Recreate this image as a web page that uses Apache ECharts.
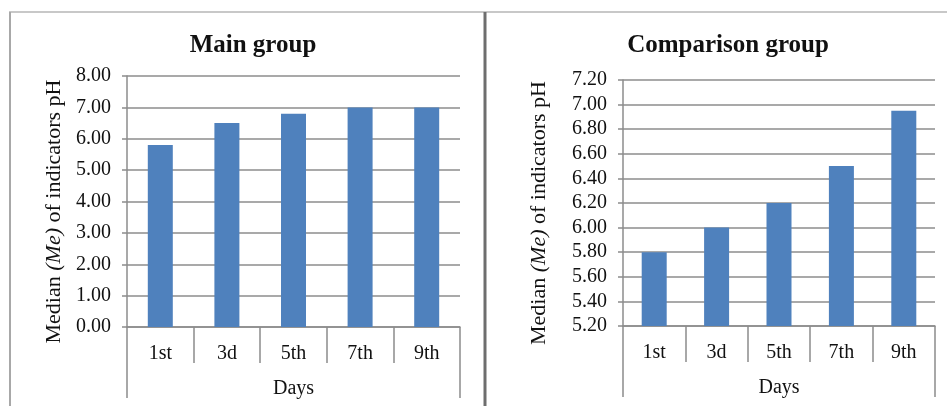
<!DOCTYPE html>
<html>
<head>
<meta charset="utf-8">
<script src="https://cdn.jsdelivr.net/npm/echarts@6/dist/echarts.min.js"></script>
<style>
  html, body { margin: 0; padding: 0; background: #ffffff; }
  #chart { width: 947px; height: 406px; }
</style>
</head>
<body>
<div id="chart"></div>
<script>
// Median pH by day, two patient groups
const days = ['1st', '3d', '5th', '7th', '9th'];
const mainGroup = [5.8, 6.5, 6.8, 7.0, 7.0];
const comparisonGroup = [5.8, 6.0, 6.2, 6.5, 6.95];
const mainTicks = { min: 0, max: 8, interval: 1 };
const comparisonTicks = { min: 5.2, max: 7.2, interval: 0.2 };

const serif = 'Liberation Serif, Times New Roman, serif';
const gridColor = '#8c8c8c';
const barColor = '#4f81bd';
const ink = '#111111';

function yAxisFor(idx, ticks, gap) {
  return {
    type: 'value', gridIndex: idx,
    min: ticks.min, max: ticks.max, interval: ticks.interval,
    axisLine: { show: true, lineStyle: { color: gridColor, width: 1.5 } },
    axisTick: { show: true, length: 5, lineStyle: { color: gridColor, width: 1.5 } },
    splitLine: { show: true, lineStyle: { color: gridColor, width: 1.5 } },
    axisLabel: { color: ink, fontFamily: serif, fontSize: 20, margin: 16,
                 formatter: v => v.toFixed(2) },
    name: 'Median {i|(Me)} of indicators pH',
    nameLocation: 'middle', nameGap: gap, nameRotate: 90,
    nameTextStyle: { color: ink, fontFamily: serif, fontSize: 22, padding: [0, 20, 0, 0],
      rich: { i: { fontStyle: 'italic', fontFamily: serif, fontSize: 22, color: ink } } }
  };
}

function dayAxis(idx) {
  return {
    type: 'category', gridIndex: idx, data: days, position: 'bottom',
    axisLine: { show: true, lineStyle: { color: gridColor, width: 1.5 } },
    axisTick: { show: true, interval: 0, length: 36, lineStyle: { color: gridColor, width: 1.5 } },
    axisLabel: { color: ink, fontFamily: serif, fontSize: 20, margin: 17, interval: 0 }
  };
}

function daysTitleAxis(idx) {
  return {
    type: 'category', gridIndex: idx, data: ['Days'], position: 'bottom',
    axisLine: { show: false },
    axisTick: { show: true, length: 71, lineStyle: { color: gridColor, width: 1.5 } },
    axisLabel: { color: ink, fontFamily: serif, fontSize: 20, margin: 52 },
    splitLine: { show: false }
  };
}

const chart = echarts.init(document.getElementById('chart'), null, { renderer: 'canvas' });
chart.setOption({
  animation: false,
  backgroundColor: '#ffffff',
  title: [
    { text: 'Main group', left: 248, top: 28, textAlign: 'center',
      textStyle: { fontFamily: serif, fontSize: 25, fontWeight: 'bold', color: ink } },
    { text: 'Comparison group', left: 723, top: 28, textAlign: 'center',
      textStyle: { fontFamily: serif, fontSize: 25, fontWeight: 'bold', color: ink } }
  ],
  grid: [
    { left: 127, right: 487, top: 76, bottom: 79 },
    { left: 623, right: 12, top: 80, bottom: 80 }
  ],
  xAxis: [dayAxis(0), dayAxis(1), daysTitleAxis(0), daysTitleAxis(1)],
  yAxis: [yAxisFor(0, mainTicks, 62), yAxisFor(1, comparisonTicks, 73)],
  series: [
    { type: 'bar', xAxisIndex: 0, yAxisIndex: 0, data: mainGroup, barWidth: 25,
      itemStyle: { color: barColor } },
    { type: 'bar', xAxisIndex: 1, yAxisIndex: 1, data: comparisonGroup, barWidth: 25,
      itemStyle: { color: barColor } }
  ],
  graphic: [
    { type: 'line', shape: { x1: 9, y1: 12, x2: 947, y2: 12 },
      style: { stroke: '#c8c8c8', lineWidth: 2 } },
    { type: 'line', shape: { x1: 10, y1: 12, x2: 10, y2: 406 },
      style: { stroke: '#a8a8a8', lineWidth: 2 } },
    { type: 'line', shape: { x1: 485, y1: 12, x2: 485, y2: 406 },
      style: { stroke: '#6e6e6e', lineWidth: 3 } }
  ]
});
</script>
</body>
</html>
